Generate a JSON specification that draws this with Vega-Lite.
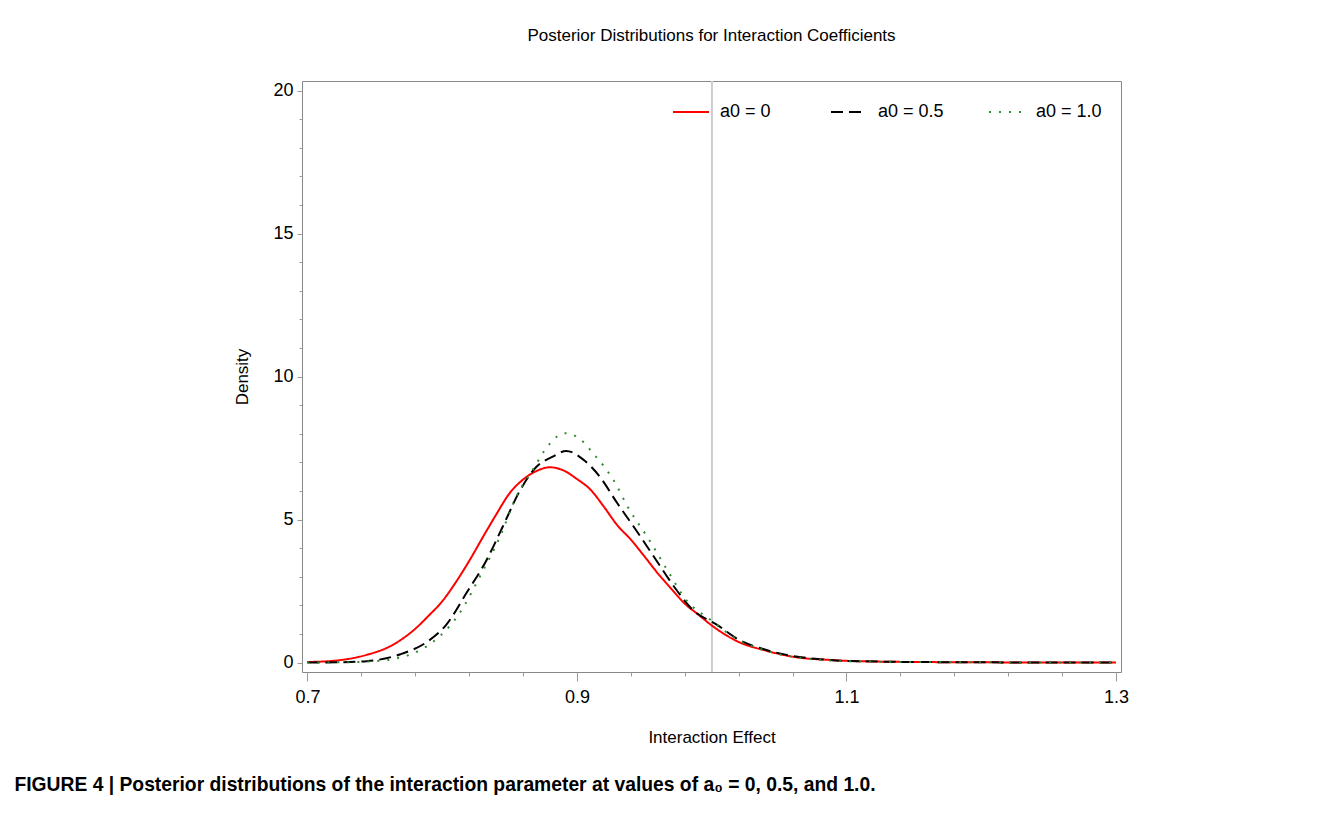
{
  "$schema": "https://vega.github.io/schema/vega-lite/v6.json",
  "background": "white",
  "padding": {"left": 14, "top": 26, "right": 5, "bottom": 5},
  "title": {
    "text": "FIGURE 4 | Posterior distributions of the interaction parameter at values of a₀ = 0, 0.5, and 1.0.",
    "orient": "bottom",
    "anchor": "start",
    "dx": -219,
    "offset": 30,
    "font": "Liberation Sans",
    "fontSize": 19.3,
    "fontWeight": "bold",
    "color": "black"
  },
  "config": {
    "font": "Liberation Sans",
    "view": {"stroke": "#888888", "strokeWidth": 1},
    "axis": {
      "grid": false,
      "domain": false,
      "tickColor": "#999999",
      "labelColor": "black",
      "labelFont": "Liberation Sans",
      "labelFontSize": 18,
      "titleFont": "Liberation Sans",
      "titleFontSize": 17,
      "titleFontWeight": "normal",
      "titleColor": "black",
      "labelOverlap": false,
      "labelBound": false,
      "labelFlush": false
    }
  },
  "vconcat": [
    {
      "width": 819,
      "height": 591,
      "title": {
        "text": "Posterior Distributions for Interaction Coefficients",
        "anchor": "middle",
        "font": "Liberation Sans",
        "fontSize": 17,
        "fontWeight": "normal",
        "color": "black",
        "offset": 36
      },
      "data": {
        "values": [
          {"x": 0.700, "density": 0.02, "prior": "a0 = 0"},
          {"x": 0.719, "density": 0.06, "prior": "a0 = 0"},
          {"x": 0.744, "density": 0.27, "prior": "a0 = 0"},
          {"x": 0.761, "density": 0.56, "prior": "a0 = 0"},
          {"x": 0.779, "density": 1.14, "prior": "a0 = 0"},
          {"x": 0.790, "density": 1.64, "prior": "a0 = 0"},
          {"x": 0.800, "density": 2.14, "prior": "a0 = 0"},
          {"x": 0.810, "density": 2.80, "prior": "a0 = 0"},
          {"x": 0.820, "density": 3.55, "prior": "a0 = 0"},
          {"x": 0.830, "density": 4.37, "prior": "a0 = 0"},
          {"x": 0.840, "density": 5.17, "prior": "a0 = 0"},
          {"x": 0.850, "density": 5.92, "prior": "a0 = 0"},
          {"x": 0.860, "density": 6.40, "prior": "a0 = 0"},
          {"x": 0.870, "density": 6.70, "prior": "a0 = 0"},
          {"x": 0.880, "density": 6.83, "prior": "a0 = 0"},
          {"x": 0.890, "density": 6.72, "prior": "a0 = 0"},
          {"x": 0.900, "density": 6.42, "prior": "a0 = 0"},
          {"x": 0.910, "density": 6.05, "prior": "a0 = 0"},
          {"x": 0.920, "density": 5.45, "prior": "a0 = 0"},
          {"x": 0.930, "density": 4.80, "prior": "a0 = 0"},
          {"x": 0.940, "density": 4.30, "prior": "a0 = 0"},
          {"x": 0.950, "density": 3.72, "prior": "a0 = 0"},
          {"x": 0.960, "density": 3.12, "prior": "a0 = 0"},
          {"x": 0.970, "density": 2.58, "prior": "a0 = 0"},
          {"x": 0.980, "density": 2.06, "prior": "a0 = 0"},
          {"x": 0.990, "density": 1.68, "prior": "a0 = 0"},
          {"x": 1.000, "density": 1.30, "prior": "a0 = 0"},
          {"x": 1.020, "density": 0.72, "prior": "a0 = 0"},
          {"x": 1.040, "density": 0.42, "prior": "a0 = 0"},
          {"x": 1.065, "density": 0.17, "prior": "a0 = 0"},
          {"x": 1.085, "density": 0.10, "prior": "a0 = 0"},
          {"x": 1.100, "density": 0.06, "prior": "a0 = 0"},
          {"x": 1.150, "density": 0.02, "prior": "a0 = 0"},
          {"x": 1.200, "density": 0.01, "prior": "a0 = 0"},
          {"x": 1.250, "density": 0.00, "prior": "a0 = 0"},
          {"x": 1.300, "density": 0.00, "prior": "a0 = 0"},

          {"x": 0.700, "density": 0.00, "prior": "a0 = 0.5"},
          {"x": 0.722, "density": 0.01, "prior": "a0 = 0.5"},
          {"x": 0.744, "density": 0.05, "prior": "a0 = 0.5"},
          {"x": 0.769, "density": 0.29, "prior": "a0 = 0.5"},
          {"x": 0.789, "density": 0.73, "prior": "a0 = 0.5"},
          {"x": 0.803, "density": 1.32, "prior": "a0 = 0.5"},
          {"x": 0.818, "density": 2.43, "prior": "a0 = 0.5"},
          {"x": 0.833, "density": 3.59, "prior": "a0 = 0.5"},
          {"x": 0.845, "density": 4.76, "prior": "a0 = 0.5"},
          {"x": 0.858, "density": 6.04, "prior": "a0 = 0.5"},
          {"x": 0.870, "density": 6.85, "prior": "a0 = 0.5"},
          {"x": 0.882, "density": 7.20, "prior": "a0 = 0.5"},
          {"x": 0.892, "density": 7.40, "prior": "a0 = 0.5"},
          {"x": 0.905, "density": 7.09, "prior": "a0 = 0.5"},
          {"x": 0.917, "density": 6.50, "prior": "a0 = 0.5"},
          {"x": 0.930, "density": 5.57, "prior": "a0 = 0.5"},
          {"x": 0.942, "density": 4.76, "prior": "a0 = 0.5"},
          {"x": 0.957, "density": 3.71, "prior": "a0 = 0.5"},
          {"x": 0.972, "density": 2.66, "prior": "a0 = 0.5"},
          {"x": 0.986, "density": 1.84, "prior": "a0 = 0.5"},
          {"x": 1.004, "density": 1.32, "prior": "a0 = 0.5"},
          {"x": 1.020, "density": 0.80, "prior": "a0 = 0.5"},
          {"x": 1.040, "density": 0.45, "prior": "a0 = 0.5"},
          {"x": 1.060, "density": 0.23, "prior": "a0 = 0.5"},
          {"x": 1.080, "density": 0.12, "prior": "a0 = 0.5"},
          {"x": 1.100, "density": 0.06, "prior": "a0 = 0.5"},
          {"x": 1.150, "density": 0.02, "prior": "a0 = 0.5"},
          {"x": 1.200, "density": 0.01, "prior": "a0 = 0.5"},
          {"x": 1.250, "density": 0.00, "prior": "a0 = 0.5"},
          {"x": 1.300, "density": 0.00, "prior": "a0 = 0.5"},

          {"x": 0.700, "density": 0.00, "prior": "a0 = 1.0"},
          {"x": 0.725, "density": 0.01, "prior": "a0 = 1.0"},
          {"x": 0.746, "density": 0.04, "prior": "a0 = 1.0"},
          {"x": 0.763, "density": 0.12, "prior": "a0 = 1.0"},
          {"x": 0.779, "density": 0.33, "prior": "a0 = 1.0"},
          {"x": 0.798, "density": 0.91, "prior": "a0 = 1.0"},
          {"x": 0.813, "density": 1.73, "prior": "a0 = 1.0"},
          {"x": 0.828, "density": 3.01, "prior": "a0 = 1.0"},
          {"x": 0.843, "density": 4.41, "prior": "a0 = 1.0"},
          {"x": 0.855, "density": 5.80, "prior": "a0 = 1.0"},
          {"x": 0.868, "density": 6.80, "prior": "a0 = 1.0"},
          {"x": 0.878, "density": 7.55, "prior": "a0 = 1.0"},
          {"x": 0.891, "density": 8.02, "prior": "a0 = 1.0"},
          {"x": 0.900, "density": 7.90, "prior": "a0 = 1.0"},
          {"x": 0.912, "density": 7.32, "prior": "a0 = 1.0"},
          {"x": 0.927, "density": 6.39, "prior": "a0 = 1.0"},
          {"x": 0.939, "density": 5.34, "prior": "a0 = 1.0"},
          {"x": 0.952, "density": 4.41, "prior": "a0 = 1.0"},
          {"x": 0.967, "density": 3.24, "prior": "a0 = 1.0"},
          {"x": 0.981, "density": 2.19, "prior": "a0 = 1.0"},
          {"x": 0.999, "density": 1.50, "prior": "a0 = 1.0"},
          {"x": 1.020, "density": 0.78, "prior": "a0 = 1.0"},
          {"x": 1.040, "density": 0.42, "prior": "a0 = 1.0"},
          {"x": 1.060, "density": 0.20, "prior": "a0 = 1.0"},
          {"x": 1.080, "density": 0.10, "prior": "a0 = 1.0"},
          {"x": 1.100, "density": 0.05, "prior": "a0 = 1.0"},
          {"x": 1.150, "density": 0.02, "prior": "a0 = 1.0"},
          {"x": 1.200, "density": 0.01, "prior": "a0 = 1.0"},
          {"x": 1.250, "density": 0.00, "prior": "a0 = 1.0"},
          {"x": 1.300, "density": 0.00, "prior": "a0 = 1.0"}
        ]
      },
      "layer": [
        {
          "mark": {"type": "rule", "color": "#cccccc", "strokeWidth": 1},
          "encoding": {"x": {"datum": 1.0, "type": "quantitative"}}
        },
        {
          "mark": {"type": "line", "strokeWidth": 2, "interpolate": "monotone", "clip": true},
          "encoding": {
            "x": {
              "field": "x",
              "type": "quantitative",
              "scale": {"domain": [0.696, 1.3037], "nice": false, "zero": false},
              "axis": {
                "title": "Interaction Effect",
                "titlePadding": 23,
                "values": [0.7, 0.72, 0.74, 0.76, 0.78, 0.8, 0.82, 0.84, 0.86, 0.88, 0.9, 0.92, 0.94, 0.96, 0.98, 1.0, 1.02, 1.04, 1.06, 1.08, 1.1, 1.12, 1.14, 1.16, 1.18, 1.2, 1.22, 1.24, 1.26, 1.28, 1.3],
                "labelExpr": "(abs(datum.value*10 - round(datum.value*10)) < 0.001 && round(datum.value*10) % 2 === 1) ? format(datum.value, '.1f') : ''",
                "tickSize": {"condition": {"test": "abs(datum.value*10 - round(datum.value*10)) < 0.001 && round(datum.value*10) % 2 === 1", "value": 9}, "value": 4},
                "labelPadding": 7
              }
            },
            "y": {
              "field": "density",
              "type": "quantitative",
              "scale": {"domain": [-0.33, 20.34], "nice": false, "zero": false},
              "axis": {
                "title": "Density",
                "titlePadding": 21,
                "values": [0, 1, 2, 3, 4, 5, 6, 7, 8, 9, 10, 11, 12, 13, 14, 15, 16, 17, 18, 19, 20],
                "labelExpr": "datum.value % 5 === 0 ? datum.label : ''",
                "tickSize": {"condition": {"test": "datum.value % 5 === 0", "value": 5}, "value": 3},
                "labelPadding": 4
              }
            },
            "color": {
              "field": "prior",
              "type": "nominal",
              "sort": ["a0 = 0", "a0 = 0.5", "a0 = 1.0"],
              "scale": {"domain": ["a0 = 0", "a0 = 0.5", "a0 = 1.0"], "range": ["#ff0000", "#000000", "#2e8b2e"]},
              "legend": {
                "title": null,
                "orient": "none",
                "legendX": 370,
                "legendY": 12,
                "direction": "horizontal",
                "symbolType": "stroke",
                "symbolSize": 1296,
                "symbolStrokeWidth": 2,
                "labelFontSize": 18,
                "labelColor": "black",
                "labelOffset": 10,
                "columnPadding": 41,
                "gridAlign": "all",
                "padding": 0
              }
            },
            "strokeDash": {
              "field": "prior",
              "type": "nominal",
              "sort": ["a0 = 0", "a0 = 0.5", "a0 = 1.0"],
              "scale": {"domain": ["a0 = 0", "a0 = 0.5", "a0 = 1.0"], "range": [[1, 0], [12, 6], [2, 8]]},
              "legend": {
                "title": null,
                "orient": "none",
                "legendX": 370,
                "legendY": 12,
                "direction": "horizontal",
                "symbolType": "stroke",
                "symbolSize": 1296,
                "symbolStrokeWidth": 2,
                "labelFontSize": 18,
                "labelColor": "black",
                "labelOffset": 10,
                "columnPadding": 41,
                "gridAlign": "all",
                "padding": 0
              }
            }
          }
        }
      ]
    }
  ]
}
